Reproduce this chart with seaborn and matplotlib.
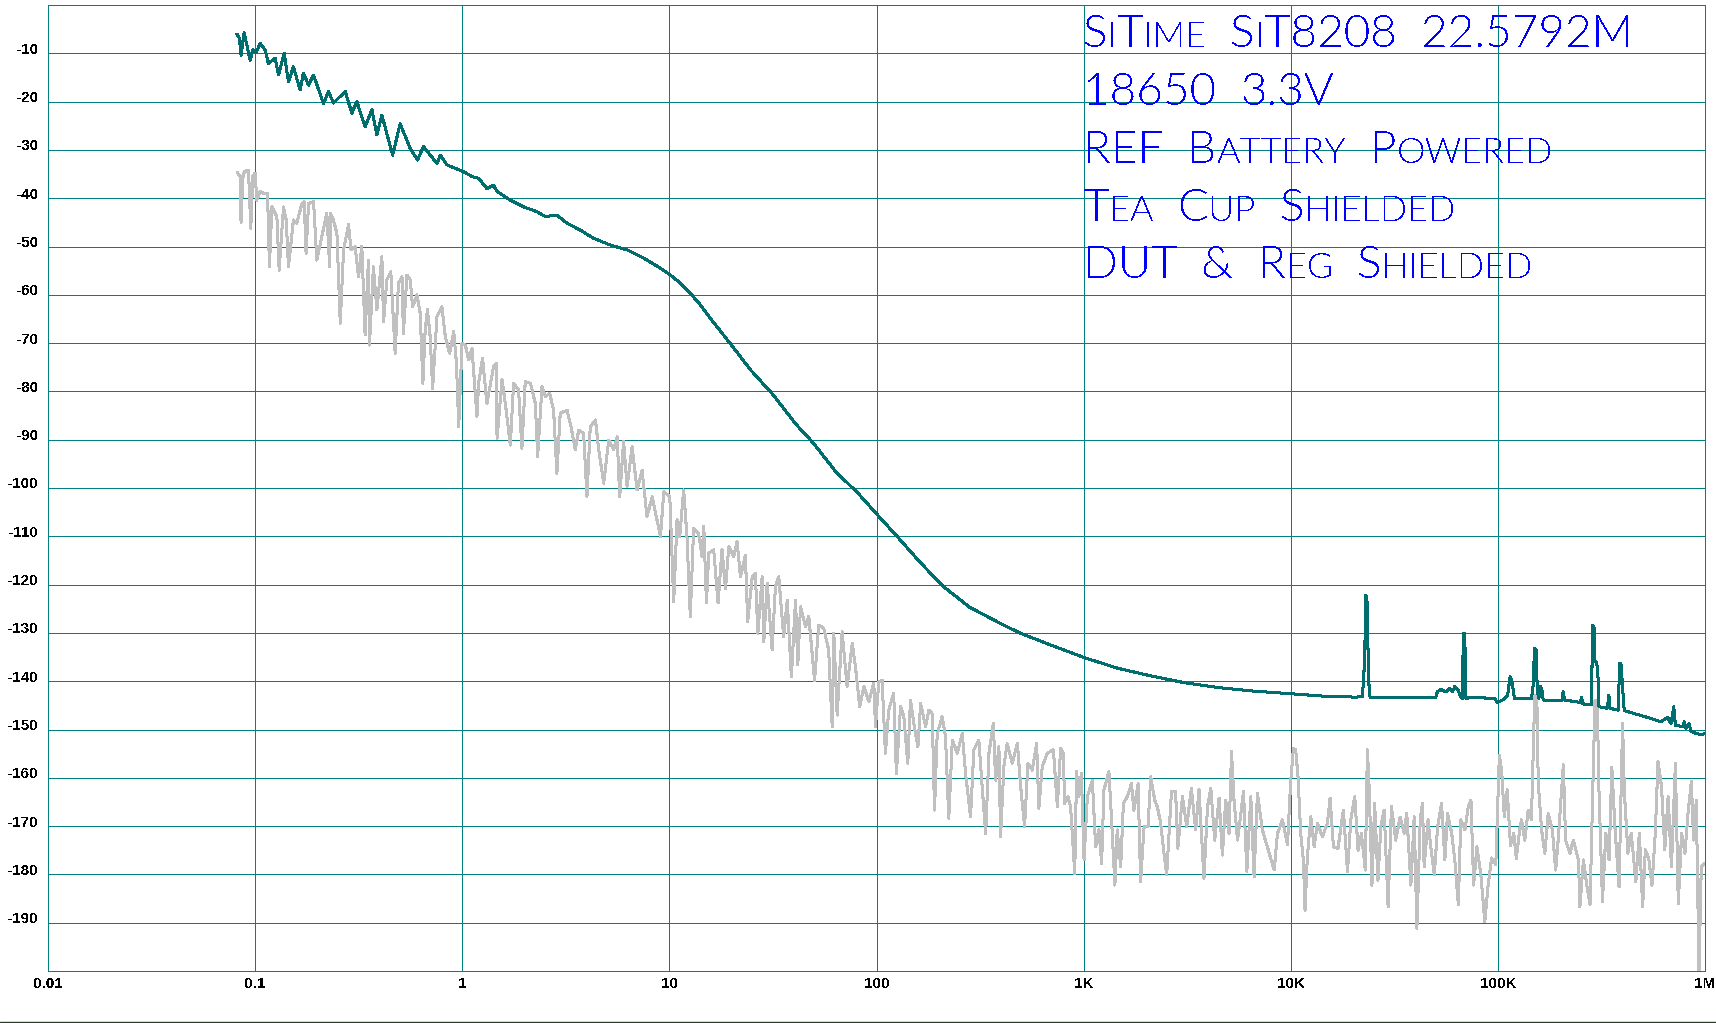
import numpy as np
import pandas as pd
import matplotlib
matplotlib.use("Agg")
import matplotlib.pyplot as plt
import seaborn as sns
from matplotlib.ticker import FixedLocator, NullLocator
from matplotlib.transforms import ScaledTranslation
from matplotlib.lines import Line2D

# ---- data (offset frequency as log10 Hz, level in dBc/Hz) ----
teal_logf = [-1.088, -1.076, -1.068, -1.053, -1.040, -1.024, -1.011, -0.995, -0.976, -0.952,
             -0.936, -0.903, -0.887, -0.860, -0.839, -0.815, -0.783, -0.767, -0.742, -0.718,
             -0.670, -0.646, -0.622, -0.565, -0.533, -0.509, -0.469, -0.436, -0.412, -0.388,
             -0.336, -0.300, -0.251, -0.216, -0.187, -0.122, -0.106, -0.074, 0.006, 0.047,
             0.079, 0.119, 0.151, 0.168, 0.232, 0.296, 0.361, 0.401, 0.457, 0.506,
             0.570, 0.634, 0.715, 0.796, 0.876, 0.957, 1.005, 1.053, 1.101, 1.150,
             1.198, 1.285, 1.393, 1.501, 1.609, 1.695, 1.803, 1.911, 1.997, 2.105,
             2.213, 2.320, 2.450, 2.601, 2.696, 2.841, 3.002, 3.163, 3.324, 3.485,
             3.646, 3.807, 4.000, 4.161, 4.314, 4.346, 4.357, 4.362, 4.366, 4.370,
             4.375, 4.383, 4.700, 4.708, 4.725, 4.749, 4.765, 4.781, 4.792, 4.808,
             4.821, 4.829, 4.833, 4.840, 4.846, 4.870, 4.983, 4.999, 5.023, 5.047,
             5.059, 5.067, 5.080, 5.161, 5.169, 5.177, 5.185, 5.190, 5.198, 5.205,
             5.213, 5.219, 5.310, 5.315, 5.322, 5.399, 5.404, 5.411, 5.453, 5.456,
             5.464, 5.469, 5.477, 5.483, 5.488, 5.528, 5.536, 5.540, 5.581, 5.588,
             5.594, 5.610, 5.739, 5.787, 5.820, 5.836, 5.849, 5.857, 5.892, 5.900,
             5.908, 5.924, 5.932, 5.957, 5.981, 6.000]
teal_db = [-6.0, -6.9, -10.4, -5.7, -8.3, -11.5, -9.2, -9.9, -7.9, -9.3,
           -12.1, -11.0, -14.5, -10.0, -15.9, -12.8, -17.6, -14.1, -16.6, -14.5,
           -20.4, -17.9, -20.3, -17.9, -22.4, -20.0, -25.2, -21.7, -26.9, -22.8,
           -31.1, -24.6, -29.7, -32.1, -29.3, -32.8, -31.1, -33.1, -34.5, -35.5,
           -35.9, -38.0, -37.3, -38.6, -40.4, -41.8, -42.8, -43.8, -43.5, -45.2,
           -46.6, -48.3, -49.7, -50.7, -52.4, -54.5, -55.9, -57.6, -59.7, -62.1,
           -64.9, -69.6, -75.6, -80.7, -86.7, -90.7, -96.6, -101.1, -105.2, -110.3,
           -115.5, -120.3, -124.7, -128.1, -130.1, -132.5, -135.1, -137.3, -138.9, -140.3,
           -141.3, -142.0, -142.6, -143.1, -143.3, -143.2, -135.6, -122.2, -122.4, -124.6,
           -139.4, -143.3, -143.3, -142.2, -141.7, -142.2, -141.5, -142.2, -141.1, -141.9,
           -143.2, -143.6, -130.1, -130.1, -143.6, -143.3, -143.6, -144.4, -143.9, -142.9,
           -139.1, -139.8, -143.6, -143.6, -141.8, -133.2, -133.5, -141.8, -143.6, -141.1,
           -141.9, -143.9, -144.0, -142.2, -143.9, -144.4, -143.3, -144.7, -144.9, -128.4,
           -128.7, -136.0, -136.0, -138.7, -145.3, -145.6, -142.9, -145.6, -146.0, -136.3,
           -136.3, -146.1, -147.7, -148.4, -147.5, -148.8, -145.3, -149.1, -149.4, -148.4,
           -149.8, -148.8, -150.4, -150.8, -151.1, -150.8]

# grey trace, split in pieces (0.08 Hz .. 6 Hz, 6 Hz .. 800 Hz, 800 Hz .. 27 kHz, 27 kHz .. 1 MHz)
grey_logf_a = [-1.086, -1.072, -1.068, -1.060, -1.052, -1.032, -1.021, -1.011, -1.000, -0.992,
               -0.976, -0.960, -0.940, -0.931, -0.919, -0.895, -0.884, -0.863, -0.850, -0.839,
               -0.815, -0.799, -0.774, -0.763, -0.754, -0.742, -0.718, -0.702, -0.678, -0.654,
               -0.640, -0.636, -0.622, -0.605, -0.589, -0.573, -0.549, -0.537, -0.517, -0.501,
               -0.485, -0.469, -0.453, -0.448, -0.429, -0.412, -0.388, -0.380, -0.364, -0.345,
               -0.324, -0.308, -0.291, -0.284, -0.267, -0.251, -0.240, -0.219, -0.203, -0.190,
               -0.179, -0.168, -0.155, -0.143, -0.122, -0.098, -0.082, -0.061, -0.041, -0.028,
               -0.017, -0.001, 0.015, 0.031, 0.047, 0.071, 0.079, 0.098, 0.119, 0.151,
               0.164, 0.168, 0.192, 0.208, 0.232, 0.248, 0.272, 0.288, 0.304, 0.329,
               0.353, 0.364, 0.385, 0.401, 0.422, 0.441, 0.457, 0.473, 0.506, 0.525,
               0.546, 0.562, 0.586, 0.602, 0.618, 0.643, 0.659, 0.683, 0.707, 0.731,
               0.748, 0.760]
grey_db_a = [-34.7, -35.5, -45.1, -35.9, -34.5, -34.2, -46.2, -35.5, -34.8, -40.4,
             -38.6, -39.0, -39.0, -54.2, -41.8, -43.8, -54.9, -41.8, -44.5, -54.2,
             -44.5, -45.2, -41.1, -40.7, -51.4, -41.1, -40.7, -52.8, -48.0, -43.1,
             -54.2, -43.1, -44.5, -47.3, -65.9, -50.7, -45.5, -50.7, -50.0, -56.3,
             -50.0, -68.3, -52.8, -70.4, -54.2, -63.1, -52.1, -65.6, -56.9, -55.2,
             -72.1, -57.6, -56.3, -68.0, -55.9, -56.9, -62.5, -60.0, -63.8, -78.3,
             -67.3, -63.1, -68.6, -79.4, -64.5, -62.5, -68.6, -72.1, -67.6, -74.2,
             -87.3, -70.0, -70.4, -73.5, -71.1, -85.2, -78.3, -73.1, -82.5, -74.9,
             -74.2, -89.7, -77.6, -82.5, -91.1, -78.3, -79.7, -91.8, -78.0, -78.3,
             -82.5, -93.5, -79.0, -81.1, -80.4, -83.9, -97.0, -84.5, -83.9, -87.3,
             -92.1, -88.0, -88.7, -101.8, -87.3, -85.9, -92.1, -99.0, -90.1, -92.1,
             -89.4, -101.8]

grey_logf_b = [0.779, 0.796, 0.820, 0.844, 0.868, 0.892, 0.917, 0.957, 0.973, 1.002,
               1.021, 1.037, 1.050, 1.069, 1.085, 1.101, 1.117, 1.141, 1.158, 1.166,
               1.179, 1.190, 1.214, 1.235, 1.254, 1.271, 1.287, 1.311, 1.327, 1.343,
               1.367, 1.378, 1.400, 1.415, 1.427, 1.448, 1.456, 1.472, 1.496, 1.512,
               1.528, 1.552, 1.569, 1.589, 1.609, 1.620, 1.633, 1.657, 1.673, 1.701,
               1.721, 1.745, 1.769, 1.786, 1.794, 1.810, 1.834, 1.858, 1.883, 1.899,
               1.919, 1.939, 1.963, 1.987, 1.995, 2.011, 2.027, 2.043, 2.059, 2.083,
               2.096, 2.116, 2.132, 2.151, 2.164, 2.180, 2.200, 2.213, 2.237, 2.253,
               2.269, 2.280, 2.293, 2.317, 2.333, 2.349, 2.366, 2.390, 2.414, 2.430,
               2.454, 2.470, 2.494, 2.510, 2.527, 2.543, 2.564, 2.575, 2.591, 2.599,
               2.615, 2.631, 2.655, 2.680, 2.696, 2.715, 2.731, 2.752, 2.773, 2.784,
               2.800, 2.825, 2.854, 2.873]
grey_db_b = [-90.4, -99.7, -91.4, -100.4, -96.3, -105.9, -101.8, -110.1, -100.8, -101.8,
             -123.5, -106.6, -110.1, -100.4, -110.1, -126.6, -108.4, -109.4, -114.2, -107.9,
             -123.8, -113.5, -112.8, -123.8, -112.8, -120.8, -112.1, -114.2, -111.1, -118.4,
             -113.9, -127.7, -118.4, -117.7, -130.1, -118.4, -131.8, -119.7, -133.5, -120.4,
             -118.4, -130.8, -123.2, -139.1, -123.2, -136.6, -124.6, -128.7, -126.6, -139.8,
             -128.4, -129.0, -133.5, -149.4, -130.1, -147.0, -129.7, -141.1, -132.2, -137.3,
             -145.3, -141.1, -144.2, -140.4, -149.4, -140.1, -139.8, -154.9, -146.0, -142.5,
             -159.1, -145.3, -147.3, -157.0, -143.9, -148.7, -153.6, -144.6, -149.4, -146.0,
             -146.7, -166.7, -151.0, -147.3, -151.5, -168.4, -152.2, -154.9, -150.8, -159.1,
             -168.1, -154.2, -152.2, -161.8, -171.5, -154.9, -148.7, -160.5, -153.6, -172.2,
             -157.7, -152.9, -157.0, -152.9, -161.8, -170.1, -157.0, -158.4, -152.9, -166.3,
             -157.7, -154.9, -154.2, -165.9]

grey_logf_c = [2.889, 2.902, 2.908, 2.924, 2.937, 2.957, 2.966, 2.977, 2.989, 3.002,
               3.018, 3.042, 3.058, 3.074, 3.087, 3.098, 3.122, 3.134, 3.151, 3.162,
               3.179, 3.192, 3.211, 3.231, 3.243, 3.263, 3.275, 3.292, 3.311, 3.324,
               3.343, 3.356, 3.372, 3.388, 3.401, 3.424, 3.444, 3.455, 3.477, 3.498,
               3.520, 3.541, 3.557, 3.581, 3.598, 3.614, 3.633, 3.654, 3.670, 3.686,
               3.702, 3.714, 3.726, 3.743, 3.772, 3.788, 3.807, 3.823, 3.839, 3.863,
               3.887, 3.920, 3.936, 3.960, 3.984, 4.000, 4.013, 4.024, 4.035, 4.048,
               4.061, 4.069, 4.080, 4.097, 4.113, 4.129, 4.153, 4.177, 4.190, 4.206,
               4.228, 4.254, 4.274, 4.290, 4.309, 4.325, 4.341, 4.360, 4.370, 4.379,
               4.392, 4.405, 4.421]
grey_db_c = [-153.9, -154.9, -165.3, -163.9, -166.0, -179.8, -158.7, -163.9, -159.1, -177.0,
             -163.9, -160.5, -174.3, -170.8, -177.7, -162.5, -158.7, -168.0, -182.2, -170.8,
             -178.4, -165.3, -163.9, -161.2, -166.7, -161.2, -181.5, -170.1, -170.1, -159.8,
             -164.6, -166.0, -169.4, -175.6, -180.1, -162.9, -162.9, -174.6, -163.9, -170.1,
             -162.2, -170.8, -162.5, -180.8, -166.0, -162.2, -172.9, -164.2, -176.0, -164.6,
             -171.5, -154.6, -164.6, -172.9, -162.9, -179.4, -163.9, -180.5, -163.2, -170.8,
             -174.3, -179.1, -171.5, -168.7, -173.9, -160.5, -153.9, -154.2, -159.8, -171.5,
             -177.0, -187.4, -176.4, -168.1, -174.3, -169.4, -172.2, -169.4, -164.2, -174.3,
             -174.6, -166.7, -179.4, -168.7, -163.9, -175.0, -171.5, -179.1, -154.2, -162.5,
             -182.2, -165.3, -181.2]

grey_logf_d = [4.435, 4.451, 4.470, 4.486, 4.507, 4.528, 4.548, 4.560, 4.580, 4.596,
               4.609, 4.625, 4.636, 4.644, 4.663, 4.676, 4.693, 4.709, 4.728, 4.744,
               4.757, 4.777, 4.792, 4.809, 4.821, 4.841, 4.857, 4.870, 4.883, 4.899,
               4.918, 4.937, 4.953, 4.970, 4.990, 5.007, 5.018, 5.031, 5.045, 5.061,
               5.077, 5.089, 5.105, 5.114, 5.130, 5.146, 5.162, 5.178, 5.188, 5.195,
               5.211, 5.227, 5.243, 5.263, 5.279, 5.292, 5.316, 5.327, 5.348, 5.364,
               5.389, 5.396, 5.413, 5.429, 5.445, 5.457, 5.469, 5.480, 5.488, 5.505,
               5.521, 5.537, 5.550, 5.566, 5.585, 5.602, 5.611, 5.628, 5.644, 5.666,
               5.683, 5.699, 5.712, 5.728, 5.744, 5.760, 5.773, 5.790, 5.806, 5.822,
               5.838, 5.857, 5.871, 5.887, 5.903, 5.918, 5.934, 5.945, 5.958, 5.971,
               5.982, 5.998]
grey_db_d = [-170.1, -166.7, -186.7, -166.0, -172.9, -168.1, -171.5, -167.3, -182.2, -168.1,
             -191.2, -168.7, -165.3, -178.4, -168.7, -174.3, -180.1, -170.1, -165.3, -177.0,
             -167.4, -171.5, -177.0, -186.3, -168.7, -170.8, -166.0, -164.6, -182.2, -174.3,
             -180.1, -189.8, -182.2, -176.6, -178.0, -155.3, -158.4, -168.1, -162.5, -174.0,
             -171.5, -176.7, -170.8, -168.7, -172.9, -166.7, -168.7, -142.9, -143.2, -161.1,
             -170.8, -175.6, -167.4, -170.8, -179.1, -172.4, -157.3, -172.9, -175.6, -172.9,
             -177.0, -186.7, -177.0, -182.2, -186.3, -164.6, -143.9, -144.6, -162.5, -185.6,
             -171.5, -177.0, -157.8, -170.8, -182.6, -148.7, -163.2, -175.6, -171.5, -181.5,
             -171.5, -186.7, -174.9, -176.6, -182.2, -171.5, -156.7, -161.8, -174.9, -163.9,
             -178.4, -157.0, -186.0, -171.5, -175.6, -167.4, -160.8, -172.9, -164.6, -200.0,
             -178.4, -177.7]

x_ticks = [0.01, 0.1, 1, 10, 100, 1e3, 1e4, 1e5, 1e6]
x_ticklabels = ["0.01", "0.1", "1", "10", "100", "1K", "10K", "100K", "1M"]
y_ticks = list(range(-200, 1, 10))
y_ticklabels = ["" if v in (-200, 0) else str(v) for v in y_ticks]

title_lines = ["SiTime SiT8208 22.5792M", "18650 3.3V", "REF Battery Powered",
               "Tea Cup Shielded", "DUT & Reg Shielded"]

# ---- frames ----
teal = pd.DataFrame({"freq": 10 ** np.array(teal_logf), "dB": teal_db})
grey = pd.DataFrame({"freq": 10 ** np.array(grey_logf_a + grey_logf_b + grey_logf_c + grey_logf_d),
                     "dB": grey_db_a + grey_db_b + grey_db_c + grey_db_d})

GRID = "#008080"
W, H = 1716, 1023

sns.set_theme(style="white")
plt.rcParams["font.family"] = ["Liberation Sans", "DejaVu Sans"]

fig = plt.figure(figsize=(W / 100, H / 100), dpi=100)
fig.patch.set_facecolor("white")
ax = fig.add_axes([48 / W, 52 / H, 1657 / W, 966 / H])
ax.set_facecolor("white")

sns.lineplot(data=grey, x="freq", y="dB", ax=ax, color="#c0c0c0", linewidth=1.45,
             estimator=None, sort=False, zorder=2, antialiased=False)
sns.lineplot(data=teal, x="freq", y="dB", ax=ax, color="#006e6e", linewidth=1.45,
             estimator=None, sort=False, zorder=3, antialiased=False)

ax.set_xscale("log")
ax.set_xlim(0.01, 1e6)
ax.set_ylim(-200, 0)
ax.xaxis.set_major_locator(FixedLocator(x_ticks))
ax.xaxis.set_minor_locator(NullLocator())
ax.yaxis.set_major_locator(FixedLocator(y_ticks))
ax.set_xticklabels(x_ticklabels, fontweight="bold", fontsize=11, antialiased=False)
ax.set_yticklabels(y_ticklabels, fontweight="bold", fontsize=11, antialiased=False)
ax.set_xlabel("")
ax.set_ylabel("")
ax.tick_params(axis="both", length=0, colors="black")
ax.tick_params(axis="x", pad=4)
ax.tick_params(axis="y", pad=7)
ax.grid(True, color=GRID, linewidth=0.5, antialiased=False)
ax.set_axisbelow(True)
for sp in ax.spines.values():
    sp.set_color(GRID)
    sp.set_linewidth(0.5)
    sp.set_antialiased(False)

# y labels sit a little above their grid line
shift = ScaledTranslation(0, 5 / 100, fig.dpi_scale_trans)
for lab in ax.get_yticklabels():
    lab.set_transform(lab.get_transform() + shift)

# dark rule along the very bottom of the picture
fig.add_artist(Line2D([0, 1], [0.6 / H, 0.6 / H], color="#2a3a2a", linewidth=1.0))

# ---- small-caps annotation block ----
fig.canvas.draw()
renderer = fig.canvas.get_renderer()
big, small = 33, 26
tprops = dict(color="#0000ff", family=["Lato", "DejaVu Sans"], fontweight=300,
              va="baseline", ha="left", antialiased=False)


def chunks(word):
    out = []
    for ch in word:
        sm = ch.islower()
        c = ch.upper()
        if out and out[-1][1] == sm:
            out[-1][0] += c
        else:
            out.append([c, sm])
    return out


baselines = [47, 105, 163, 221, 278]
for line, base in zip(title_lines, baselines):
    x = 1083
    for word in line.split(" "):
        for txt, sm in chunks(word):
            t = fig.text(x / W, 1 - base / H, txt, fontsize=small if sm else big, **tprops)
            x += t.get_window_extent(renderer).width
        x += 24

fig.savefig("out.png", dpi=100)
